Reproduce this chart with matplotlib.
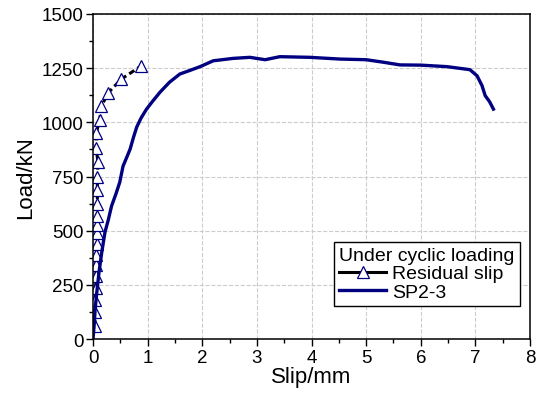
import numpy as np
import matplotlib
matplotlib.use("Agg")
import matplotlib.pyplot as plt
from matplotlib.ticker import MultipleLocator
from matplotlib.lines import Line2D

plt.rcParams['font.family'] = ['Liberation Sans', 'DejaVu Sans']

# residual slip under cyclic loading
res_slip = [0.03, 0.04, 0.04, 0.05, 0.05, 0.06, 0.06, 0.07, 0.07, 0.07, 0.08,
            0.08, 0.08, 0.08, 0.09, 0.06, 0.06, 0.12, 0.155, 0.27, 0.52, 0.88]
res_load = [60, 125, 180, 235, 290, 340, 390, 440, 490, 525, 570,
            625, 690, 750, 815, 880, 950, 1010, 1074, 1134, 1200, 1260]

# SP2-3 envelope
sp_slip = [0, 0.02, 0.04, 0.07, 0.11, 0.16, 0.22, 0.28, 0.34, 0.42, 0.49, 0.55,
           0.62, 0.68, 0.74, 0.80, 0.88, 0.98, 1.1, 1.23, 1.4, 1.59, 1.8, 1.96,
           2.2, 2.56, 2.87, 3.15, 3.42, 3.97, 4.52, 5.0, 5.3, 5.62, 6.0, 6.48,
           6.9, 7.03, 7.12, 7.18, 7.26, 7.33]
sp_load = [0, 60, 140, 217, 309, 400, 494, 550, 614, 670, 724, 798,
           840, 877, 930, 978, 1020, 1061, 1100, 1140, 1185, 1223, 1242, 1257,
           1284, 1295, 1300, 1289, 1303, 1300, 1292, 1289, 1278, 1265, 1264, 1257,
           1243, 1215, 1170, 1123, 1095, 1061]

fig = plt.figure(figsize=(5.37, 4.02), dpi=100)
ax = fig.add_axes([0.1732, 0.1542, 0.8138, 0.8085])

ax.plot(res_slip, res_load, color='black', ls='--', lw=2.2, dashes=(2, 1.2),
        marker='^', ms=8.5, mfc='white', mec='#000080', mew=0.9,
        label='Residual slip')
ax.plot(sp_slip, sp_load, color='#000080', lw=2.4, label='SP2-3')

ax.set_xlim(0, 8)
ax.set_ylim(0, 1500)
ax.xaxis.set_major_locator(MultipleLocator(1))
ax.xaxis.set_minor_locator(MultipleLocator(0.5))
ax.yaxis.set_major_locator(MultipleLocator(250))
ax.yaxis.set_minor_locator(MultipleLocator(125))
ax.tick_params(which='both', direction='out', labelsize=13.5, width=1, pad=2)
ax.tick_params(which='major', length=5)
ax.tick_params(which='minor', length=3)
ax.grid(True, which='major', color='#cccccc', ls='--', lw=0.8)
ax.set_axisbelow(True)
for s in ax.spines.values():
    s.set_linewidth(1.1)

ax.set_xlabel('Slip/mm', fontsize=16, labelpad=0)
ax.set_ylabel('Load/kN', fontsize=16, labelpad=4)

h1 = Line2D([], [], color='black', lw=2.2, marker='^', ms=8.5, mfc='white',
            mec='#000080', mew=0.9)
h2 = Line2D([], [], color='#000080', lw=2.4)
leg = ax.legend([h1, h2], ['Residual slip', 'SP2-3'], title='Under cyclic loading',
                loc='lower right', bbox_to_anchor=(0.976, 0.102), fontsize=14,
                title_fontsize=14, frameon=True, fancybox=False, edgecolor='black',
                framealpha=1, handlelength=2.4, handletextpad=0.3,
                borderpad=0.25, labelspacing=0.05, borderaxespad=0)
leg.get_frame().set_linewidth(1)
leg._legend_box.align = 'left'

fig.savefig('out.png', dpi=100)
